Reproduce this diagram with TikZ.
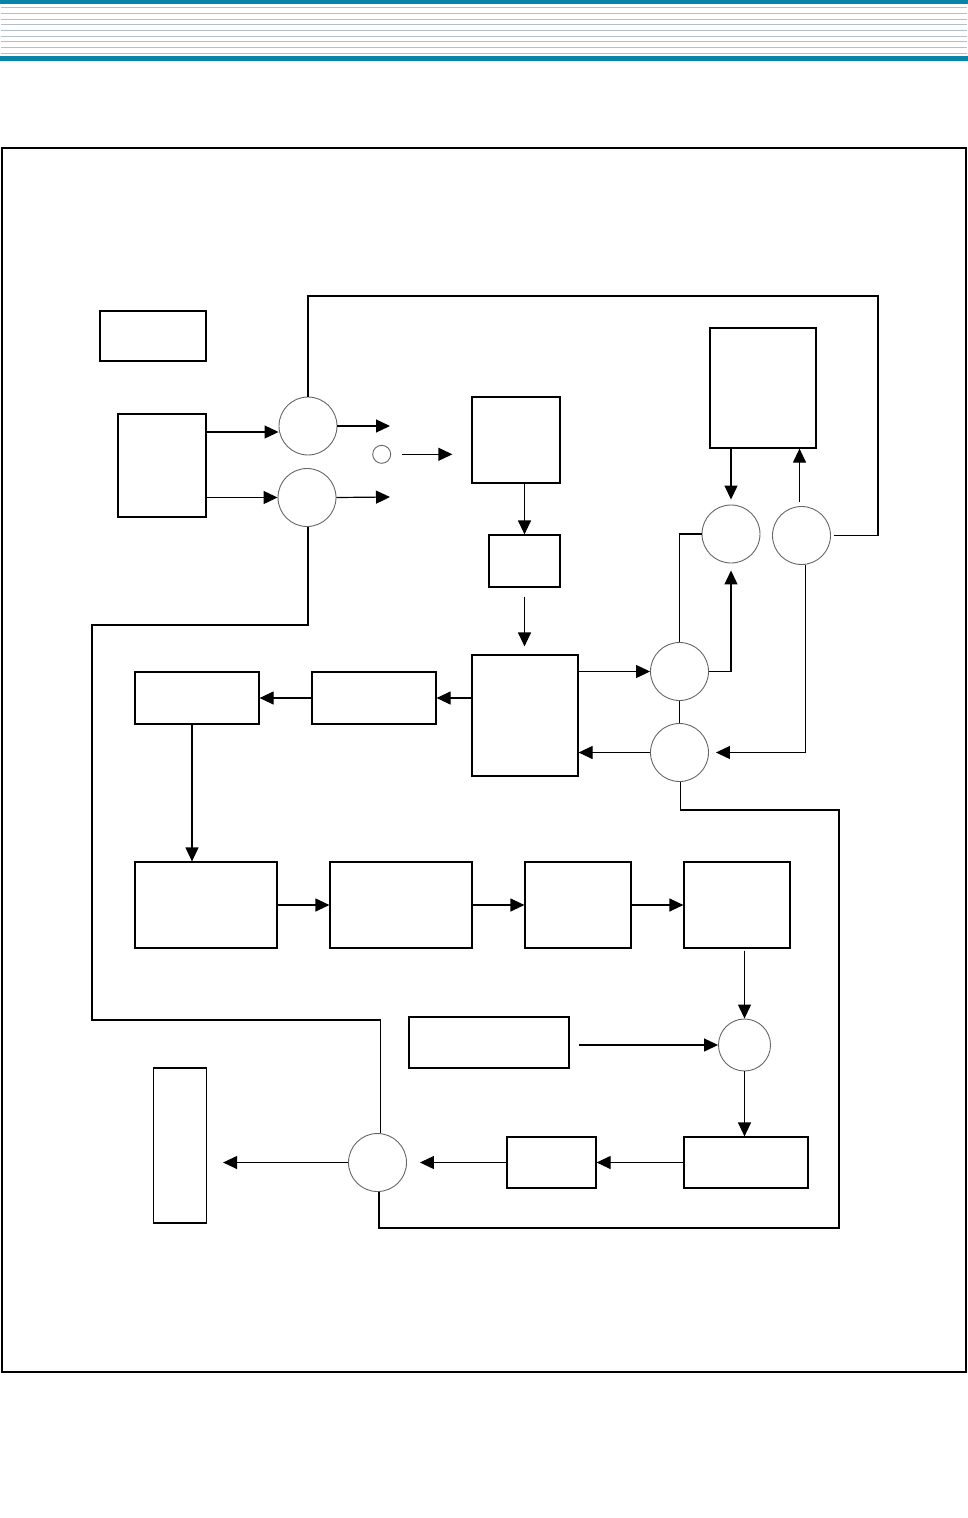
\documentclass[tikz,border=0pt]{standalone}
\usetikzlibrary{arrows.meta,calc}
\definecolor{teal1}{RGB}{8,132,168}
\definecolor{hgrey}{RGB}{178,192,202}
\begin{document}
\begin{tikzpicture}[x=1pt,y=-1pt,
  blk/.style={draw,line width=1.2pt,inner sep=0pt,rectangle},
  rnd/.style={draw=black!60,line width=0.9pt,circle,inner sep=0pt,minimum size=58pt},
  wire/.style={line width=1.2pt},
  arr/.style={line width=1.2pt,-{Triangle[length=14pt,width=13pt]}}]
\useasboundingbox (0,0) rectangle (968,1518);
% header
\fill[teal1] (0,0) rectangle (968,3.5);
\fill[teal1] (0,56) rectangle (968,60.5);
\foreach \yy in {7.3,13.3,19.3,24.3,30.3,36,41.3,47.3,53.3}
  \draw[hgrey,line width=1pt] (1,\yy) -- (967,\yy);
% frame
\node[blk,minimum width=964pt,minimum height=1224pt] (frame) at (484,760) {};
% boxes
\node[blk,minimum width=106pt,minimum height=50pt] (A) at (153,336) {};
\node[blk,minimum width=88pt,minimum height=103pt] (B) at (162,465.5) {};
\node[blk,minimum width=88pt,minimum height=86pt] (D) at (516,440) {};
\node[blk,minimum width=71pt,minimum height=52pt] (E) at (524.5,561) {};
\node[blk,minimum width=106pt,minimum height=121pt] (F) at (525,715.5) {};
\node[blk,minimum width=106pt,minimum height=120pt] (G) at (763,388) {};
\node[blk,minimum width=124pt,minimum height=52pt] (H) at (374,698) {};
\node[blk,minimum width=124pt,minimum height=52pt] (I) at (197,698) {};
\node[blk,minimum width=142pt,minimum height=86pt] (J) at (206,905) {};
\node[blk,minimum width=142pt,minimum height=86pt] (K) at (401,905) {};
\node[blk,minimum width=106pt,minimum height=86pt] (L) at (578,905) {};
\node[blk,minimum width=106pt,minimum height=86pt] (M) at (737,905) {};
\node[blk,minimum width=160pt,minimum height=51pt] (N) at (489,1042.5) {};
\node[blk,minimum width=124pt,minimum height=51pt] (O) at (746,1162.5) {};
\node[blk,minimum width=89pt,minimum height=51pt] (P) at (551.5,1162.5) {};
\node[blk,minimum width=53pt,minimum height=155pt] (Q) at (180,1145.5) {};
% circles
\node[rnd] (C1) at (308,426) {};
\node[rnd] (C2) at (307,497.5) {};
\node[rnd,minimum size=18pt] (s) at (381.7,454.3) {};
\node[rnd] (C3) at (731,534) {};
\node[rnd] (C4) at (801.5,535.5) {};
\node[rnd] (C5) at (679.5,671.5) {};
\node[rnd] (C6) at (679.5,752.5) {};
\node[rnd,minimum size=52pt] (C7) at (744.5,1045) {};
\node[rnd] (C8) at (377.5,1162.5) {};
% free ends
\coordinate (o1) at (390,426);
\coordinate (o2) at (390,497);
\coordinate (tr) at (878,296);
\coordinate (l1) at (92,625);
\coordinate (l2) at (92,1020);
\coordinate (br) at (839,810);
\coordinate (bb) at (839,1228);
% connectors
\draw[arr] (B.east |- 0,432) -- (C1.west |- 0,432);
\draw[arr] (B.east |- C2) -- (C2.west);
\draw[arr] (C1.east) -- (o1);
\draw[arr] (C2.east) -- (o2);
\draw[arr] ([xshift=11pt]s.east) -- ([xshift=-19pt]D.west |- s);
\draw[arr] (D.south -| E) -- (E.north);
\draw[arr] ([yshift=-9pt]E.south) -- ([yshift=8pt]F.north -| E);
\draw[arr] (F.west |- H) -- (H.east);
\draw[arr] (H.west) -- (I.east);
\draw[arr] ([xshift=-5pt]I.south) -- ([xshift=-5pt]I.south |- J.north);
\draw[arr] (J.east) -- (K.west);
\draw[arr] (K.east) -- (L.west);
\draw[arr] (L.east) -- (M.west);
\draw[arr] ([yshift=-2pt]M.south -| C7) -- (C7.north);
\draw[arr] ([xshift=9pt]N.east |- C7.west) -- (C7.west);
\draw[arr] (C7.south) -- (O.north -| C7);
\draw[arr] (O.west) -- (P.east);
\draw[arr] (P.west) -- ([xshift=13pt]C8.east |- P.west);
\draw[arr] (C8.west) -- ([xshift=16pt]Q.east |- C8);
\draw[arr] (G.south -| C3) -- ([yshift=5pt]C3.north);
\draw[arr] ([yshift=4pt,xshift=-2pt]C4.north) -- ([xshift=-2pt]G.south -| C4);
\draw[arr] (C5.east) -| ([yshift=-7pt]C3.south);
\draw[wire] (C3.west) -| (C5.north);
\draw[arr] (F.east |- C5) -- (C5.west);
\draw[arr] (C6.west) -- (F.east |- C6);
\draw[wire] (C5.south) -- (C6.north);
\draw[arr] ([xshift=4pt]C4.south) |- ([xshift=7pt]C6.east);
\draw[wire] (C1.north) |- (tr) |- ([xshift=3pt]C4.east);
\draw[wire] ([xshift=1pt]C2.south) |- (l1) -- (l2) -| ([xshift=3pt]C8.north);
\draw[wire] ([xshift=1pt]C6.south) |- (br) -- (bb) -| ([xshift=1.5pt]C8.south);
\end{tikzpicture}
\end{document}
